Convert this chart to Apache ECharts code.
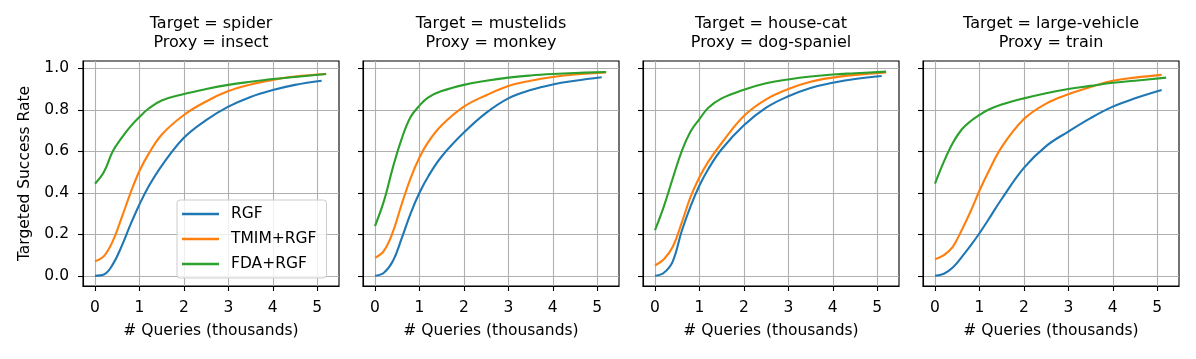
<!DOCTYPE html>
<html>
<head>
<meta charset="utf-8">
<script src="https://cdn.jsdelivr.net/npm/echarts@6/dist/echarts.min.js"></script>
<style>
  html, body { margin: 0; padding: 0; background: #fff; }
  #chart { width: 1196px; height: 359px; }
</style>
</head>
<body>
<div id="chart"></div>
<script>
// x positions (thousands of queries)
const xRGF = [0, 0.2, 0.4, 0.6, 0.8, 1.0, 1.2, 1.5, 2.0, 2.5, 3.0, 3.5, 4.0, 4.5, 5.1];
const xOther = [0, 0.2, 0.4, 0.6, 0.8, 1.0, 1.2, 1.5, 2.0, 2.5, 3.0, 3.5, 4.0, 4.5, 5.2];

const panelTitles = [
  'Target = spider\nProxy = insect',
  'Target = mustelids\nProxy = monkey',
  'Target = house-cat\nProxy = dog-spaniel',
  'Target = large-vehicle\nProxy = train'
];
const seriesNames = ['RGF', 'TMIM+RGF', 'FDA+RGF'];
const xTicks = [0, 1, 2, 3, 4, 5];
const yTicks = [0, 0.2, 0.4, 0.6, 0.8, 1.0];

// panel 1: spider / insect
const rgf1  = [0, 0.006, 0.055, 0.143, 0.248, 0.344, 0.428, 0.53, 0.665, 0.75, 0.815, 0.862, 0.895, 0.92, 0.94];
const tmim1 = [0.07, 0.095, 0.167, 0.28, 0.40, 0.505, 0.585, 0.68, 0.775, 0.84, 0.89, 0.922, 0.944, 0.96, 0.972];
const fda1  = [0.444, 0.50, 0.60, 0.665, 0.72, 0.765, 0.805, 0.845, 0.876, 0.90, 0.92, 0.935, 0.948, 0.958, 0.972];
// panel 2: mustelids / monkey
const rgf2  = [0, 0.015, 0.07, 0.18, 0.30, 0.40, 0.48, 0.575, 0.69, 0.785, 0.855, 0.895, 0.922, 0.94, 0.957];
const tmim2 = [0.087, 0.12, 0.21, 0.345, 0.47, 0.57, 0.645, 0.725, 0.815, 0.87, 0.915, 0.94, 0.958, 0.97, 0.98];
const fda2  = [0.24, 0.36, 0.52, 0.66, 0.765, 0.82, 0.86, 0.89, 0.92, 0.94, 0.955, 0.965, 0.972, 0.977, 0.982];
// panel 3: house-cat / dog-spaniel
const rgf3  = [0, 0.015, 0.07, 0.215, 0.335, 0.435, 0.515, 0.61, 0.725, 0.81, 0.865, 0.905, 0.93, 0.948, 0.963];
const tmim3 = [0.05, 0.08, 0.14, 0.255, 0.38, 0.475, 0.55, 0.64, 0.77, 0.85, 0.90, 0.935, 0.955, 0.968, 0.98];
const fda3  = [0.22, 0.335, 0.47, 0.60, 0.695, 0.755, 0.81, 0.855, 0.897, 0.928, 0.946, 0.96, 0.97, 0.976, 0.984];
// panel 4: large-vehicle / train
const rgf4  = [0, 0.01, 0.04, 0.09, 0.145, 0.205, 0.27, 0.37, 0.52, 0.625, 0.695, 0.76, 0.815, 0.855, 0.895];
const tmim4 = [0.08, 0.10, 0.14, 0.22, 0.31, 0.41, 0.50, 0.62, 0.755, 0.83, 0.875, 0.91, 0.94, 0.955, 0.968];
const fda4  = [0.444, 0.55, 0.64, 0.705, 0.745, 0.775, 0.80, 0.825, 0.855, 0.88, 0.90, 0.915, 0.93, 0.94, 0.955];

const panels = [
  [[xRGF, rgf1], [xOther, tmim1], [xOther, fda1]],
  [[xRGF, rgf2], [xOther, tmim2], [xOther, fda2]],
  [[xRGF, rgf3], [xOther, tmim3], [xOther, fda3]],
  [[xRGF, rgf4], [xRGF, tmim4], [xOther, fda4]]
];

const colors = ['#1f77b4', '#ff7f0e', '#2ca02c'];
const font = 'DejaVu Sans';
const fs = 15.5;
const gridLeft = [83, 363, 643, 923];
const gridW = 256;

const zip = (xs, ys) => ys.map((y, i) => [xs[i], y]);

const option = {
  animation: false,
  color: colors,
  textStyle: { fontFamily: font },
  title: panelTitles.map((t, i) => ({
    text: t,
    left: gridLeft[i] + gridW / 2,
    top: 14,
    textAlign: 'center',
    padding: 0,
    textStyle: { fontSize: 16, fontWeight: 'normal', color: '#000', lineHeight: 19, fontFamily: font }
  })),
  legend: {
    orient: 'vertical',
    left: 177,
    top: 200,
    data: seriesNames,
    icon: 'rect',
    itemWidth: 37,
    itemHeight: 2.5,
    itemGap: 9,
    padding: [6, 10, 6, 5],
    backgroundColor: 'rgba(255,255,255,0.8)',
    borderColor: '#cccccc',
    borderWidth: 1,
    borderRadius: 3,
    textStyle: { fontSize: fs, color: '#000', fontFamily: font, padding: [0, 0, 0, 7] },
    z: 10
  },
  grid: gridLeft.map(l => ({
    left: l, top: 61, width: gridW, height: 225,
    show: true, borderColor: '#000', borderWidth: 1.1, backgroundColor: 'transparent'
  })),
  xAxis: gridLeft.map((l, i) => ({
    gridIndex: i,
    type: 'value',
    min: -0.27,
    max: 5.49,
    name: '# Queries (thousands)',
    nameLocation: 'middle',
    nameGap: 37,
    nameTextStyle: { fontSize: fs, color: '#000', fontFamily: font },
    axisLine: { show: true, onZero: false, lineStyle: { color: '#000', width: 1.1 } },
    axisTick: { show: true, customValues: xTicks, length: 5, lineStyle: { color: '#000', width: 1.1 } },
    axisLabel: { customValues: xTicks, margin: 14, fontSize: fs, color: '#000', fontFamily: font,
                 formatter: v => String(v) },
    splitLine: { show: true, lineStyle: { color: '#b0b0b0', width: 1.1 } }
  })),
  yAxis: gridLeft.map((l, i) => ({
    gridIndex: i,
    type: 'value',
    min: -0.049,
    max: 1.035,
    name: i === 0 ? 'Targeted Success Rate' : '',
    nameLocation: 'middle',
    nameGap: 50,
    nameTextStyle: { fontSize: fs, color: '#000', fontFamily: font },
    axisLine: { show: true, onZero: false, lineStyle: { color: '#000', width: 1.1 } },
    axisTick: { show: true, customValues: yTicks, length: 5, lineStyle: { color: '#000', width: 1.1 } },
    axisLabel: { show: i === 0, customValues: yTicks, margin: 14, fontSize: fs, color: '#000', fontFamily: font,
                 formatter: v => v.toFixed(1) },
    splitLine: { show: true, lineStyle: { color: '#b0b0b0', width: 1.1 } }
  })),
  series: []
};

panels.forEach((p, i) => {
  p.forEach((pair, k) => {
    option.series.push({
      type: 'line',
      name: seriesNames[k],
      xAxisIndex: i,
      yAxisIndex: i,
      data: zip(pair[0], pair[1]),
      showSymbol: false,
      smooth: 0.4,
      lineStyle: { width: 2.1, color: colors[k] },
      itemStyle: { color: colors[k] },
      z: 3 + k
    });
  });
});

const chart = echarts.init(document.getElementById('chart'));
chart.setOption(option);
</script>
</body>
</html>
